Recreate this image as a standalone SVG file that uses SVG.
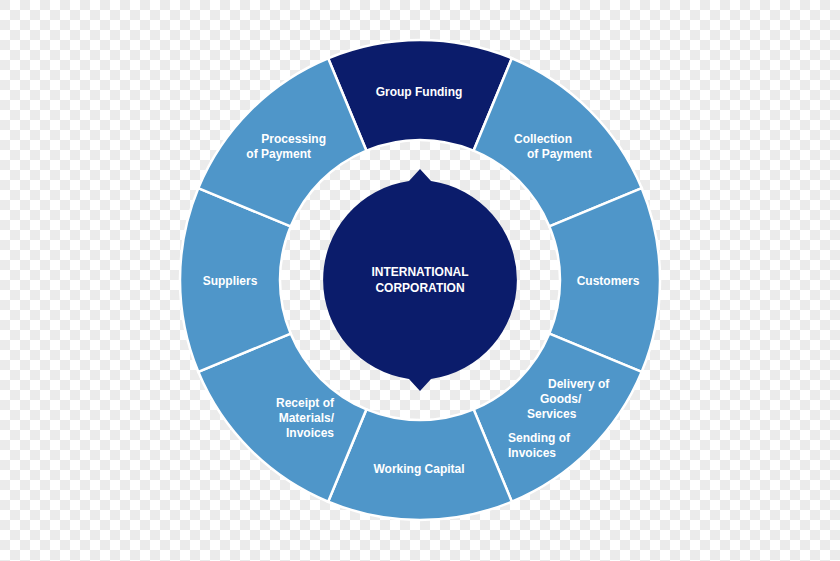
<svg xmlns="http://www.w3.org/2000/svg" width="840" height="561" viewBox="0 0 840 561">
<defs>
<pattern id="chk" width="20" height="20" patternUnits="userSpaceOnUse">
<rect width="20" height="20" fill="#ffffff"/>
<rect width="10" height="10" fill="#ebebeb"/>
<rect x="10" y="10" width="10" height="10" fill="#ebebeb"/>
</pattern>
</defs>
<style>
.seg{fill:#4f96c9;stroke:#ffffff;stroke-width:2.5}
.dark{fill:#0b1c6b}
text{font-family:"Liberation Sans",Arial,sans-serif;font-weight:bold;font-size:12px;fill:#ffffff}
</style>
<rect width="840" height="561" fill="url(#chk)"/>
<circle cx="420" cy="280" r="141.5" fill="none" stroke="#ffffff" stroke-width="2"/>
<g id="group-funding"><path class="seg dark" d="M328.15,58.26 A240,240 0 0 1 511.85,58.26 L473.58,150.65 A140,140 0 0 0 366.42,150.65 Z"/><text x="419" y="96" text-anchor="middle">Group Funding</text></g>
<g id="collection"><path class="seg" d="M511.85,58.26 A240,240 0 0 1 641.74,188.15 L549.35,226.42 A140,140 0 0 0 473.58,150.65 Z"/><text x="514" y="143">Collection</text><text x="527" y="158">of Payment</text></g>
<g id="customers"><path class="seg" d="M641.74,188.15 A240,240 0 0 1 641.74,371.85 L549.35,333.58 A140,140 0 0 0 549.35,226.42 Z"/><text x="608" y="285" text-anchor="middle">Customers</text></g>
<g id="delivery"><path class="seg" d="M641.74,371.85 A240,240 0 0 1 511.85,501.74 L473.58,409.35 A140,140 0 0 0 549.35,333.58 Z"/><text x="548" y="388">Delivery of</text><text x="540" y="403">Goods/</text><text x="527" y="418">Services</text><text x="508" y="442">Sending of</text><text x="508" y="457">Invoices</text></g>
<g id="working-capital"><path class="seg" d="M511.85,501.74 A240,240 0 0 1 328.15,501.74 L366.42,409.35 A140,140 0 0 0 473.58,409.35 Z"/><text x="419" y="473" text-anchor="middle">Working Capital</text></g>
<g id="receipt"><path class="seg" d="M328.15,501.74 A240,240 0 0 1 198.26,371.85 L290.65,333.58 A140,140 0 0 0 366.42,409.35 Z"/><text x="334" y="407" text-anchor="end">Receipt of</text><text x="334" y="422" text-anchor="end">Materials/</text><text x="334" y="437" text-anchor="end">Invoices</text></g>
<g id="suppliers"><path class="seg" d="M198.26,371.85 A240,240 0 0 1 198.26,188.15 L290.65,226.42 A140,140 0 0 0 290.65,333.58 Z"/><text x="230" y="285" text-anchor="middle">Suppliers</text></g>
<g id="processing"><path class="seg" d="M198.26,188.15 A240,240 0 0 1 328.15,58.26 L366.42,150.65 A140,140 0 0 0 290.65,226.42 Z"/><text x="326" y="143" text-anchor="end">Processing</text><text x="311" y="158" text-anchor="end">of Payment</text></g>
<g id="center"><path class="dark" d="M420,169 L431,181 A100,100 0 0 1 431,379 L420,391 L409,379 A100,100 0 0 1 409,181 Z"/><text x="420" y="276" text-anchor="middle">INTERNATIONAL</text><text x="420" y="292" text-anchor="middle">CORPORATION</text></g>
</svg>
